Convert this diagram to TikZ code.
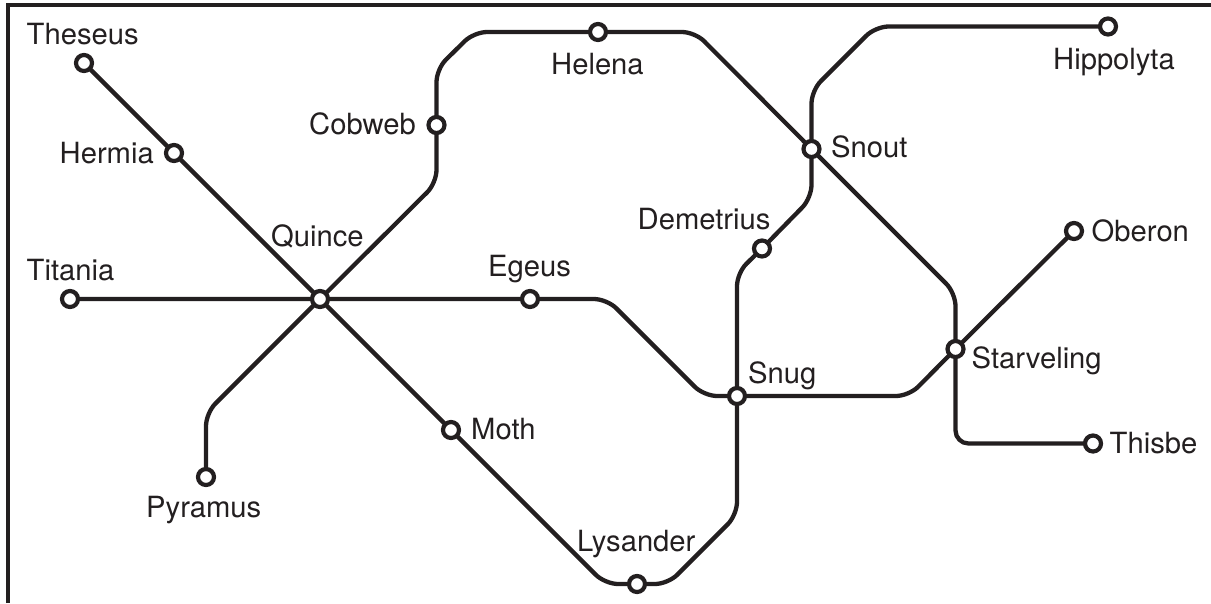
\documentclass[tikz,border=0pt]{standalone}
\usepackage{fontspec}
\setmainfont{TeX Gyre Heros}
\usetikzlibrary{backgrounds}
\definecolor{ink}{HTML}{231F20}
\tikzset{
  x=1pt,y=-1pt,
  station/.style={circle,draw=ink,fill=white,line width=4.2pt,minimum size=16pt,inner sep=0pt},
  metro/.style={draw=ink,line width=4.3pt,rounded corners=13pt,line join=round},
  lab/.style={text=ink,font=\fontsize{29.2}{30}\selectfont,inner sep=0pt,anchor=base west},
}
\begin{document}
\begin{tikzpicture}
\useasboundingbox (0,0) rectangle (1211,603);
\draw[ink,line width=3.5pt] (8,603) -- (8,5) -- (1211,5);
\node[station] (theseus) at (84,63) {};
\node[station] (hermia) at (174,153) {};
\node[station] (quince) at (320,299) {};
\node[station] (titania) at (70,299) {};
\node[station] (egeus) at (530,299) {};
\node[station] (snug) at (737,396) {};
\node[station] (moth) at (451,430) {};
\node[station] (lysander) at (637,584) {};
\node[station] (pyramus) at (206,477) {};
\node[station] (cobweb) at (436.5,125) {};
\node[station] (helena) at (598,32) {};
\node[station] (snout) at (811.5,149) {};
\node[station] (hippolyta) at (1108,26.5) {};
\node[station] (demetrius) at (762,248.5) {};
\node[station] (starveling) at (955.5,349) {};
\node[station] (oberon) at (1074,231) {};
\node[station] (thisbe) at (1093,443.5) {};
\begin{pgfonlayer}{background}
\draw[metro] (theseus.center) -- (hermia.center) -- (quince.center) -- (moth.center) -- (605,584) -- (lysander.center) -- (668,584) -- (737,515) -- (snug.center) -- (737,273) -- (demetrius.center) -- (811.5,198) -- (snout.center) -- (811.5,90.5) -- (875.5,26.5) -- (hippolyta.center);
\draw[metro] (titania.center) -- (quince.center) -- (egeus.center) -- (607,299) -- (704,396) -- (snug.center) -- (909,396) -- (starveling.center) -- (oberon.center);
\draw[metro] (pyramus.center) -- (206,413) -- (quince.center) -- (436.5,183) -- (cobweb.center) -- (436.5,69) -- (474,32) -- (helena.center) -- (695,32) -- (snout.center) -- (955.5,293) -- (starveling.center) -- (955.5,443.5) -- (thisbe.center);
\end{pgfonlayer}
\node[lab] (tTheseus) at (26.5,44) {Theseus};
\node[lab] (tHermia) at (59.5,163) {Hermia};
\node[lab] (tCobweb) at (309,134) {Cobweb};
\node[lab] (tHelena) at (551,74) {Helena};
\node[lab] (tHippolyta) at (1053,69) {Hippolyta};
\node[lab] (tSnout) at (831,157) {Snout};
\node[lab] (tDemetrius) at (637.5,229) {Demetrius};
\node[lab] (tQuince) at (271,246) {Quince};
\node[lab] (tTitania) at (26.5,280) {Titania};
\node[lab] (tEgeus) at (488,276) {Egeus};
\node[lab] (tOberon) at (1091.5,241) {Oberon};
\node[lab] (tSnug) at (748,383) {Snug};
\node[lab] (tStarveling) at (971.5,368) {Starveling};
\node[lab] (tThisbe) at (1109.5,453) {Thisbe};
\node[lab] (tMoth) at (471,439) {Moth};
\node[lab] (tPyramus) at (146,517) {Pyramus};
\node[lab] (tLysander) at (577,551) {Lysander};
\end{tikzpicture}
\end{document}
